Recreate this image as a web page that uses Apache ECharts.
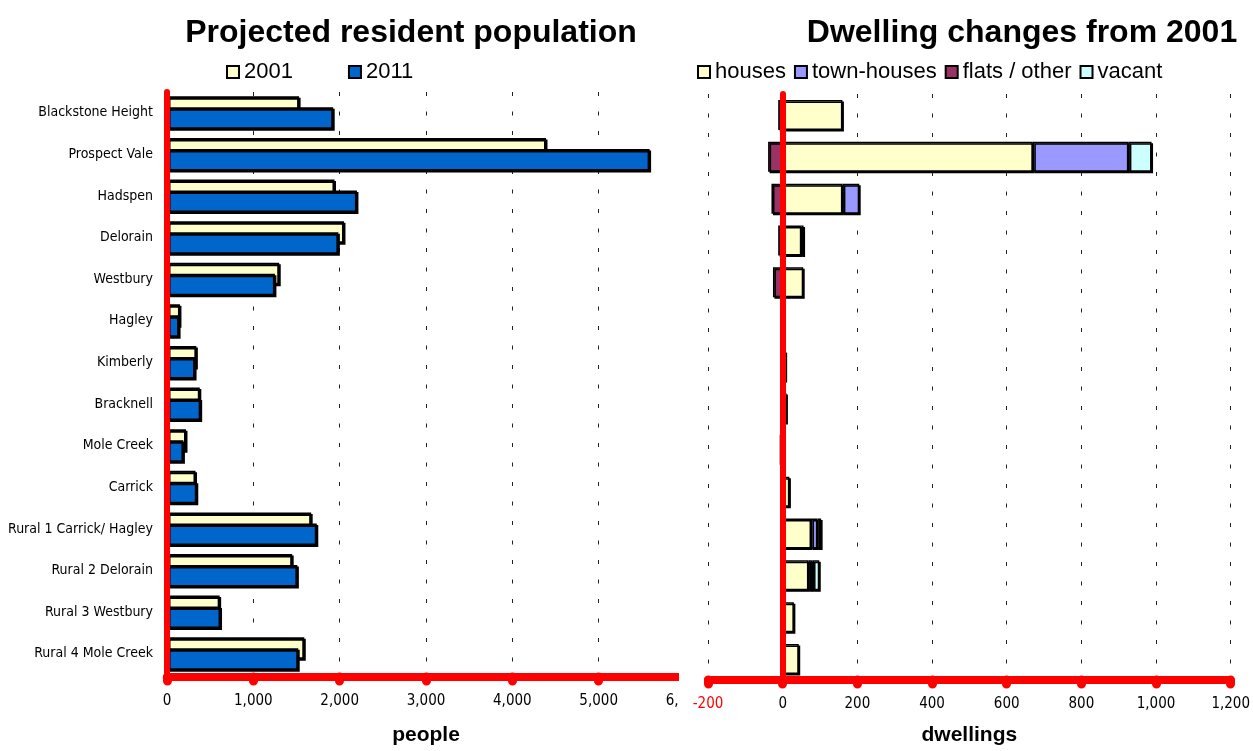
<!DOCTYPE html>
<html>
<head>
<meta charset="utf-8">
<script src="https://cdn.jsdelivr.net/npm/echarts@6/dist/echarts.min.js"></script>
<style>
  html, body { margin: 0; padding: 0; background: #fff; }
  #main { width: 1253px; height: 751px; }
</style>
</head>
<body>
<div id="main"></div>
<script>
// places, top to bottom
const categories = ['Blackstone Height', 'Prospect Vale', 'Hadspen', 'Delorain', 'Westbury', 'Hagley',
  'Kimberly', 'Bracknell', 'Mole Creek', 'Carrick', 'Rural 1 Carrick/ Hagley', 'Rural 2 Delorain',
  'Rural 3 Westbury', 'Rural 4 Mole Creek']

// resident population
const pop2001 = [1530, 4390, 1940, 2050, 1300, 150, 340, 380, 220, 330, 1670, 1450, 610, 1590]
const pop2011 = [1925, 5590, 2200, 1985, 1250, 140, 325, 390, 190, 345, 1735, 1510, 620, 1520]

// dwelling changes from 2001
const houses = [160, 670, 160, 50, 55, 3, 8, 10, 0, 18, 76, 69, 30, 43]
const townHouses = [0, 256, 45, 6, 0, 0, 0, 0, 0, 0, 17, 11, 0, 0]
const flats = [-12, -39, -30, -12, -26, 0, 0, 0, -8, 0, 0, 0, 0, 0]
const vacant = [0, 62, 0, 0, 0, 0, 0, 0, 0, 0, 10, 18, 0, 0]

const peopleTicks = [0, 6000, 1000]
const dwellingTicks = [-200, 1200, 200]

const narrow = "'Liberation Sans Narrow', 'DejaVu Sans Condensed', 'Liberation Sans', sans-serif"
const sans = "'Liberation Sans', Arial, sans-serif"
const RED = '#ff0000'

const barStyle = (color, bw) => ({
  color: color,
  borderColor: '#000',
  borderWidth: bw,
  shadowColor: '#000',
  shadowOffsetX: 1.5,
  shadowOffsetY: 1.5,
  shadowBlur: 0
})

// empty segments are not drawn at all
const skipZero = arr => arr.map(v => (v === 0 ? null : v))

const fmt = v => v.toLocaleString('en-US')

const redLine = { show: true, lineStyle: { color: RED, width: 8, cap: 'round' } }
const redTicks = { show: true, length: 4, lineStyle: { color: RED, width: 9, cap: 'round' } }
const dots = { show: true, lineStyle: { color: '#222', width: 1, type: [4, 15.5] } }

const legendText = { fontSize: 22, color: '#000', fontFamily: sans, padding: [0, 0, 0, 0] }

const chart = echarts.init(document.getElementById('main'))
chart.setOption({
  animation: false,
  textStyle: { fontFamily: sans },
  title: [
    { text: 'Projected resident population', left: 406, top: 12, textAlign: 'center',
      textStyle: { fontSize: 32, fontWeight: 'bold', color: '#000', fontFamily: sans } },
    { text: 'Dwelling changes from 2001', left: 1017, top: 12, textAlign: 'center',
      textStyle: { fontSize: 32, fontWeight: 'bold', color: '#000', fontFamily: sans } }
  ],
  legend: [
    { data: ['2001', '2011'], left: 221, top: 56, icon: 'rect', itemWidth: 12, itemHeight: 12, itemGap: 55,
      itemStyle: { borderColor: '#000', borderWidth: 2 }, textStyle: legendText },
    { data: ['houses', 'town-houses', 'flats / other', 'vacant'], left: 692, top: 56, icon: 'rect',
      itemWidth: 12, itemHeight: 12, itemGap: 8,
      itemStyle: { borderColor: '#000', borderWidth: 2 }, textStyle: legendText }
  ],
  grid: [
    { left: 167, top: 92, width: 518, height: 588 },
    { left: 708, top: 94, width: 529, height: 595 }
  ],
  xAxis: [
    { type: 'value', gridIndex: 0, min: peopleTicks[0], max: peopleTicks[1], interval: peopleTicks[2],
      offset: 2.5,
      name: 'people', nameLocation: 'middle', nameGap: 48,
      nameTextStyle: { fontSize: 21, fontWeight: 'bold', color: '#000', fontFamily: sans },
      axisLine: redLine, axisTick: redTicks, splitLine: dots,
      axisLabel: {
        // the last label is cut off by the right plot
        formatter: v => (v === peopleTicks[1] ? '{a|6,}{h|000}' : fmt(v)),
        rich: {
          a: { fontSize: 15, color: '#000', fontFamily: narrow },
          h: { fontSize: 15, color: 'rgba(0,0,0,0)', fontFamily: narrow }
        },
        margin: 17, fontSize: 15, color: '#000', fontFamily: narrow } },
    { type: 'value', gridIndex: 1, min: dwellingTicks[0], max: dwellingTicks[1], interval: dwellingTicks[2],
      name: 'dwellings', nameLocation: 'middle', nameGap: 45,
      nameTextStyle: { fontSize: 21, fontWeight: 'bold', color: '#000', fontFamily: sans },
      axisLine: redLine, axisTick: redTicks, splitLine: dots,
      axisLabel: { formatter: fmt, margin: 17, fontSize: 15, fontFamily: narrow,
        color: v => (v < 0 ? RED : '#000') } }
  ],
  yAxis: [
    { type: 'category', gridIndex: 0, data: categories, inverse: true, z: 5,
      axisLine: { show: true, lineStyle: { color: RED, width: 6, cap: 'round' } },
      axisTick: { show: false },
      axisLabel: { margin: 14, fontSize: 14, color: '#000', fontFamily: narrow } },
    { type: 'category', gridIndex: 1, data: categories, inverse: true, z: 5,
      axisLine: { show: true, onZero: true, lineStyle: { color: RED, width: 6, cap: 'round' } },
      axisTick: { show: false },
      axisLabel: { show: false } }
  ],
  graphic: [
    // the left plot is cut off just before the right plot starts
    { type: 'rect', left: 679, top: 80, z: 100, shape: { width: 16, height: 614 },
      style: { fill: '#fff' } }
  ],
  series: [
    { name: '2001', type: 'bar', xAxisIndex: 0, yAxisIndex: 0, data: pop2001,
      barWidth: 22, barGap: '-50%', itemStyle: barStyle('#ffffcc', 2) },
    { name: '2011', type: 'bar', xAxisIndex: 0, yAxisIndex: 0, data: pop2011,
      barWidth: 22, barGap: '-50%', itemStyle: barStyle('#0066cc', 2) },
    { name: 'houses', type: 'bar', stack: 'd', xAxisIndex: 1, yAxisIndex: 1, data: skipZero(houses),
      barWidth: 30, itemStyle: barStyle('#ffffcc', 1.5) },
    { name: 'town-houses', type: 'bar', stack: 'd', xAxisIndex: 1, yAxisIndex: 1, data: skipZero(townHouses),
      barWidth: 30, itemStyle: barStyle('#9999ff', 1.5) },
    { name: 'flats / other', type: 'bar', stack: 'd', xAxisIndex: 1, yAxisIndex: 1, data: skipZero(flats),
      barWidth: 30, itemStyle: barStyle('#993366', 1.5) },
    { name: 'vacant', type: 'bar', stack: 'd', xAxisIndex: 1, yAxisIndex: 1, data: skipZero(vacant),
      barWidth: 30, itemStyle: barStyle('#ccffff', 1.5) }
  ]
})
</script>
</body>
</html>
